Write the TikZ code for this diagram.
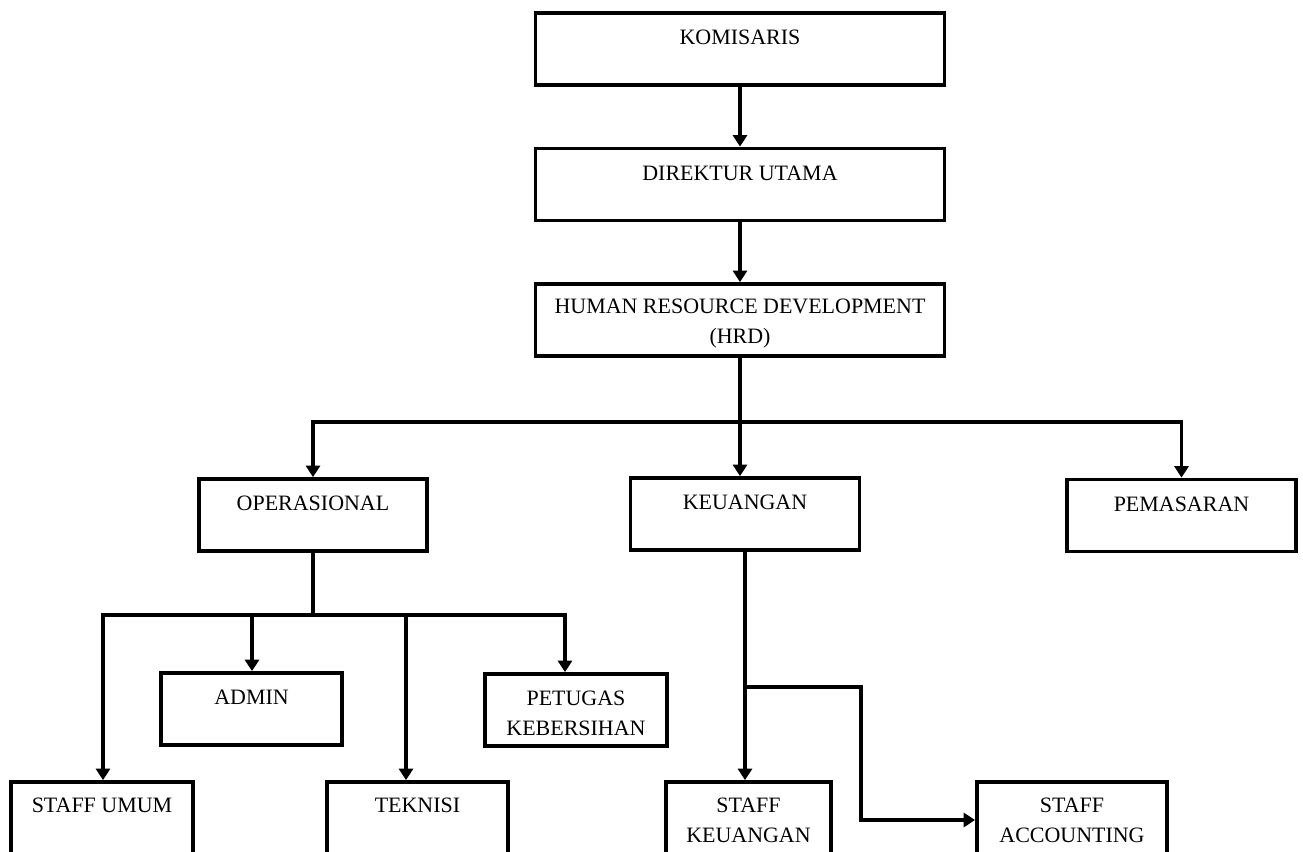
\documentclass[tikz,border=0pt]{standalone}
\usepackage{fontspec}
\setmainfont{Liberation Serif}
\usetikzlibrary{arrows.meta}

\begin{document}
\begin{tikzpicture}[x=0.02cm,y=-0.02cm,
		box/.style={draw,line width=2.2pt,minimum height=1.44cm,inner sep=0pt,align=center,font=\fontsize{12.5}{17}\selectfont},
		link/.style={line width=2pt},
		arr/.style={link,-{Triangle[length=6.5pt,width=8pt]}}]
			\useasboundingbox (0,0) rectangle (1303,852);
			\clip (0,0) rectangle (1303,852);
			% pimpinan
			\node[box,minimum width=8.18cm] (kom) at (740,49) {\rule{0pt}{12pt}KOMISARIS\\~};
			\node[box,minimum width=8.18cm] (dir) at (740,184.5) {\rule{0pt}{12pt}DIREKTUR UTAMA\\~};
			\node[box,minimum width=8.18cm] (hrd) at (740,320) {\rule{0pt}{12pt}HUMAN RESOURCE DEVELOPMENT\\(HRD)};
			% bagian
			\node[box,minimum width=4.56cm] (ops) at (313,515) {\rule{0pt}{12pt}OPERASIONAL\\~};
			\node[box,minimum width=4.58cm] (keu) at (745,514) {\rule{0pt}{12pt}KEUANGAN\\~};
			\node[box,minimum width=4.58cm] (pem) at (1181.5,515.5) {\rule{0pt}{12pt}PEMASARAN\\~};
			% staff
			\node[box,minimum width=3.62cm] (admin) at (251.5,709) {\rule{0pt}{12pt}ADMIN\\~};
			\node[box,minimum width=3.64cm] (pet) at (576,710) {\rule{0pt}{12pt}PETUGAS\\KEBERSIHAN};
			\node[box,minimum width=3.64cm,minimum height=1.52cm] (sumum) at (102,820) {STAFF UMUM\\~};
			\node[box,minimum width=3.62cm,minimum height=1.52cm] (tek) at (417.5,820) {TEKNISI\\~};
			\node[box,minimum width=3.30cm,minimum height=1.52cm] (skeu) at (748.5,820) {STAFF\\KEUANGAN};
			\node[box,minimum width=3.80cm,minimum height=1.52cm] (acc) at (1072,820) {STAFF\\ACCOUNTING};
			\coordinate (bus) at (0,422);
			\coordinate (obus) at (0,615);
			\coordinate (kb) at (861,687);
			\draw[arr] (kom) -- (dir);
			\draw[arr] (dir) -- (hrd);
			\draw[arr] (hrd.south) -- (hrd.south |- keu.north);
			\draw[arr] (hrd.south |- bus) -| (ops.north);
			\draw[arr] (hrd.south |- bus) -| (pem.north);
			\draw[link] (ops.south) -- (ops.south |- obus);
			\foreach \t/\x in {sumum/103,admin/252,tek/406,pet/565}
				\draw[arr] (ops.south |- obus) -| (\x,615 |- \t.north);
			\draw[arr] (keu.south) -- (keu.south |- skeu.north);
			\draw[arr] (keu.south |- kb) -- (kb) |- (acc.west);
	\end{tikzpicture}
\end{document}
